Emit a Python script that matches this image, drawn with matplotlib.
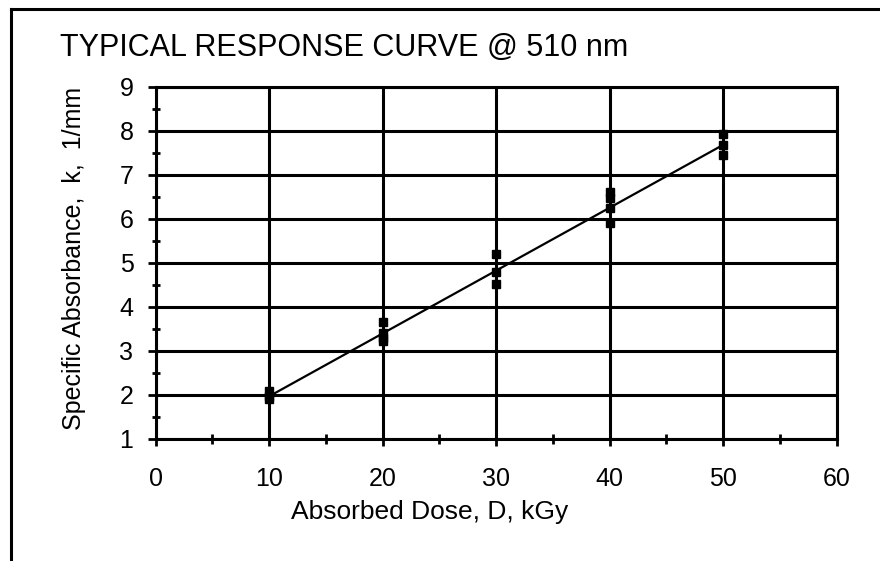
import numpy as np
import matplotlib
matplotlib.use("Agg")
import matplotlib.pyplot as plt
from matplotlib.lines import Line2D
from matplotlib.ticker import MultipleLocator

plt.rcParams['font.family'] = ['Liberation Sans', 'DejaVu Sans']

# measured points (dose in kGy, specific absorbance in 1/mm)
dose = [10, 10, 10, 20, 20, 20, 20, 30, 30, 30, 40, 40, 40, 40, 50, 50, 50]
absorb = [2.08, 1.98, 1.90, 3.65, 3.40, 3.30, 3.22, 5.20, 4.80, 4.52,
          6.62, 6.48, 6.24, 5.90, 7.93, 7.67, 7.46]

# fitted response line end points
fit_dose = [10, 50]
fit_absorb = [1.97, 7.68]

title = "TYPICAL RESPONSE CURVE @ 510 nm"
xlabel = "Absorbed Dose, D, kGy"
ylabel = "Specific Absorbance,  k,  1/mm"

W, H = 880, 561
fig = plt.figure(figsize=(W / 100, H / 100), dpi=100)
ax = fig.add_axes([155.7 / W, 1 - 439 / H, 681 / W, 352.3 / H])

ax.plot(fit_dose, fit_absorb, color='black', lw=1.6, zorder=3)
ax.plot(dose, absorb, ls='none', marker='s', ms=5.5, color='black', zorder=4)

ax.set_xlim(0, 60)
ax.set_ylim(1, 9)
ax.xaxis.set_major_locator(MultipleLocator(10))
ax.xaxis.set_minor_locator(MultipleLocator(5))
ax.yaxis.set_major_locator(MultipleLocator(1))
ax.yaxis.set_minor_locator(MultipleLocator(0.5))

ax.grid(True, which='major', color='black', lw=2.2)
for s in ax.spines.values():
    s.set_linewidth(2.2)

ax.tick_params(axis='x', which='major', direction='out', length=5, width=2,
               labelsize=18, pad=15)
ax.tick_params(axis='x', which='minor', direction='inout', length=7, width=2)
ax.tick_params(axis='y', which='major', direction='out', length=6, width=2,
               labelsize=18, pad=10)
ax.tick_params(axis='y', which='minor', direction='inout', length=6, width=2)

fig.text(60 / W, 1 - 48 / H, title, fontsize=22, ha='left', va='center')
fig.text(430 / W, 1 - 512 / H, xlabel, fontsize=19, ha='center', va='center')
fig.text(74 / W, 1 - 258 / H, ylabel, fontsize=18, ha='center', va='center',
         rotation=90)

# outer frame (left and top edges)
fig.add_artist(Line2D([11 / W, 11 / W], [0, 1 - 9 / H], transform=fig.transFigure,
                      color='black', lw=2.2))
fig.add_artist(Line2D([11 / W, 1], [1 - 9 / H, 1 - 9 / H], transform=fig.transFigure,
                      color='black', lw=2.2))

fig.savefig("out.png", dpi=100)
